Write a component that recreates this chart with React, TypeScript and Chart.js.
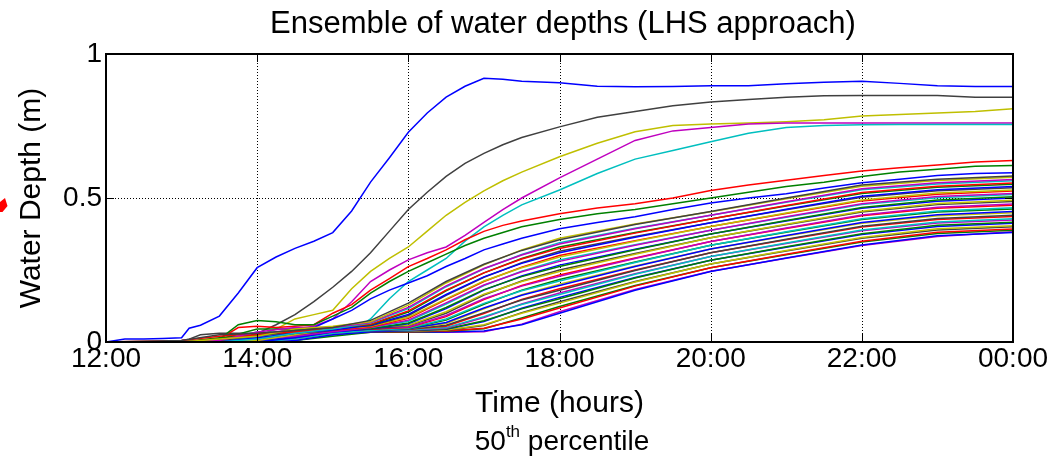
import React, { useEffect, useRef } from 'react';
import { Chart, registerables } from 'chart.js';

Chart.register(...registerables);

const FONT = "'Liberation Sans', Arial, Helvetica, sans-serif";

// ---------- Text ----------
const chartTitle = 'Ensemble of water depths (LHS approach)';
const xAxisTitle = 'Time (hours)';
const yAxisTitle = 'Water Depth (m)';
const subtitleNumber = '50';
const subtitleSup = 'th';
const subtitleRest = ' percentile';

// ---------- Axes ----------
const tickHours = [12, 14, 16, 18, 20, 22, 24];
const tickLabels = ['12:00', '14:00', '16:00', '18:00', '20:00', '22:00', '00:00'];
const depthTicks = [0, 0.5, 1];
const depthTickLabels = ['0', '0.5', '1'];

// ---------- Highlighted (upper) ensemble members ----------
const hoursTop = [12, 12.25, 12.5, 12.75, 13, 13.1, 13.25, 13.5, 13.75, 14, 14.25, 14.5, 14.75, 15, 15.25, 15.5, 15.75, 16, 16.25, 16.5, 16.75, 17, 17.25, 17.5, 18, 18.5, 19, 19.5, 20, 20.5, 21, 21.5, 22, 22.5, 23, 23.5, 24];

const topBlue = [0, 0.01, 0.01, 0.012, 0.015, 0.048, 0.058, 0.09, 0.17, 0.258, 0.295, 0.325, 0.35, 0.38, 0.455, 0.555, 0.64, 0.728, 0.795, 0.85, 0.888, 0.916, 0.912, 0.905, 0.9, 0.888, 0.886, 0.887, 0.89, 0.89, 0.897, 0.902, 0.905, 0.898, 0.89, 0.887, 0.887];
const topGray = [0, 0, 0, 0, 0.005, 0.01, 0.025, 0.03, 0.03, 0.03, 0.06, 0.095, 0.14, 0.19, 0.245, 0.31, 0.385, 0.46, 0.52, 0.575, 0.62, 0.655, 0.685, 0.71, 0.747, 0.78, 0.8, 0.82, 0.833, 0.842, 0.85, 0.855, 0.856, 0.856, 0.856, 0.85, 0.85];
const topYellow = [0, 0, 0, 0, 0, 0, 0.005, 0.01, 0.015, 0.02, 0.045, 0.08, 0.095, 0.11, 0.185, 0.245, 0.29, 0.33, 0.385, 0.44, 0.485, 0.525, 0.56, 0.59, 0.643, 0.69, 0.73, 0.752, 0.757, 0.76, 0.765, 0.772, 0.785, 0.79, 0.795, 0.8, 0.81];
const topMagenta = [0, 0, 0, 0, 0, 0, 0, 0.005, 0.01, 0.015, 0.035, 0.045, 0.055, 0.08, 0.14, 0.21, 0.25, 0.285, 0.31, 0.33, 0.37, 0.415, 0.46, 0.5, 0.57, 0.635, 0.7, 0.733, 0.745, 0.757, 0.76, 0.76, 0.76, 0.76, 0.76, 0.76, 0.76];
const topCyan = [0, 0, 0, 0, 0, 0, 0, 0.005, 0.02, 0.035, 0.03, 0.02, 0.02, 0.025, 0.035, 0.08, 0.15, 0.21, 0.25, 0.29, 0.35, 0.4, 0.44, 0.476, 0.528, 0.585, 0.635, 0.665, 0.695, 0.725, 0.745, 0.752, 0.754, 0.755, 0.755, 0.755, 0.755];
const topRed = [0, 0, 0, 0, 0, 0, 0.005, 0.01, 0.05, 0.055, 0.05, 0.055, 0.06, 0.1, 0.13, 0.18, 0.22, 0.262, 0.29, 0.32, 0.355, 0.384, 0.405, 0.42, 0.445, 0.465, 0.48, 0.5, 0.526, 0.545, 0.562, 0.578, 0.594, 0.605, 0.615, 0.625, 0.63];
const topGreen = [0, 0, 0, 0, 0, 0, 0, 0.01, 0.06, 0.075, 0.07, 0.06, 0.06, 0.09, 0.12, 0.17, 0.21, 0.245, 0.275, 0.305, 0.335, 0.36, 0.38, 0.4, 0.425, 0.445, 0.46, 0.48, 0.5, 0.52, 0.54, 0.555, 0.575, 0.59, 0.6, 0.61, 0.613];
const topBlue2 = [0, 0, 0, 0, 0, 0, 0, 0, 0.01, 0.03, 0.035, 0.04, 0.05, 0.08, 0.11, 0.15, 0.18, 0.205, 0.23, 0.262, 0.29, 0.32, 0.34, 0.36, 0.393, 0.415, 0.435, 0.46, 0.483, 0.5, 0.515, 0.535, 0.553, 0.565, 0.578, 0.585, 0.588];

// ---------- Main bundle of ensemble members ----------
const hoursBundle = [12, 13, 13.5, 14, 14.5, 15, 15.5, 16, 16.5, 17, 17.5, 18, 19, 20, 21, 22, 23, 24];

const m00 = [0, 0.005, 0.025, 0.03, 0.04, 0.05, 0.075, 0.135, 0.21, 0.27, 0.318, 0.355, 0.408, 0.453, 0.5, 0.545, 0.565, 0.576];
const m01 = [0, 0, 0.01, 0.02, 0.045, 0.055, 0.07, 0.128, 0.205, 0.268, 0.32, 0.36, 0.41, 0.452, 0.497, 0.541, 0.561, 0.572];
const m02 = [0, 0, 0.005, 0.035, 0.05, 0.05, 0.068, 0.12, 0.195, 0.255, 0.302, 0.34, 0.393, 0.44, 0.487, 0.532, 0.553, 0.564];
const m03 = [0, 0, 0, 0.01, 0.03, 0.045, 0.066, 0.116, 0.192, 0.254, 0.304, 0.345, 0.395, 0.44, 0.485, 0.529, 0.549, 0.56];
const m04 = [0, 0.005, 0.02, 0.03, 0.035, 0.05, 0.062, 0.108, 0.18, 0.24, 0.288, 0.325, 0.378, 0.427, 0.474, 0.519, 0.541, 0.552];
const m05 = [0, 0, 0.01, 0.045, 0.045, 0.05, 0.06, 0.104, 0.178, 0.24, 0.29, 0.33, 0.38, 0.427, 0.472, 0.516, 0.537, 0.548];
const m06 = [0, 0, 0, 0.015, 0.03, 0.042, 0.058, 0.096, 0.165, 0.226, 0.273, 0.31, 0.364, 0.414, 0.461, 0.506, 0.529, 0.54];
const m07 = [0, 0, 0.005, 0.02, 0.04, 0.05, 0.056, 0.092, 0.162, 0.225, 0.275, 0.315, 0.366, 0.414, 0.459, 0.503, 0.525, 0.536];
const m08 = [0, 0, 0, 0.005, 0.025, 0.045, 0.055, 0.086, 0.15, 0.212, 0.258, 0.295, 0.35, 0.401, 0.448, 0.493, 0.517, 0.528];
const m09 = [0, 0, 0.01, 0.025, 0.035, 0.042, 0.052, 0.082, 0.147, 0.21, 0.26, 0.3, 0.352, 0.401, 0.446, 0.49, 0.513, 0.524];
const m10 = [0, 0, 0, 0.01, 0.02, 0.036, 0.05, 0.076, 0.136, 0.198, 0.244, 0.28, 0.336, 0.388, 0.435, 0.48, 0.505, 0.516];
const m11 = [0, 0, 0, 0.02, 0.04, 0.048, 0.05, 0.072, 0.132, 0.196, 0.246, 0.285, 0.338, 0.388, 0.433, 0.477, 0.501, 0.512];
const m12 = [0, 0, 0.015, 0.025, 0.03, 0.04, 0.047, 0.066, 0.12, 0.182, 0.227, 0.262, 0.32, 0.375, 0.422, 0.467, 0.493, 0.504];
const m13 = [0, 0, 0, 0, 0.015, 0.035, 0.046, 0.063, 0.116, 0.18, 0.229, 0.267, 0.322, 0.375, 0.42, 0.464, 0.489, 0.5];
const m14 = [0, 0, 0.005, 0.015, 0.04, 0.05, 0.052, 0.058, 0.105, 0.166, 0.21, 0.245, 0.305, 0.362, 0.409, 0.454, 0.481, 0.492];
const m15 = [0, 0, 0, 0.01, 0.025, 0.04, 0.046, 0.056, 0.1, 0.163, 0.212, 0.25, 0.307, 0.362, 0.407, 0.451, 0.477, 0.488];
const m16 = [0, 0, 0, 0.005, 0.03, 0.045, 0.048, 0.052, 0.092, 0.15, 0.194, 0.228, 0.29, 0.349, 0.396, 0.441, 0.468, 0.479];
const m17 = [0, 0, 0.01, 0.02, 0.035, 0.04, 0.044, 0.05, 0.088, 0.147, 0.196, 0.233, 0.292, 0.349, 0.394, 0.438, 0.464, 0.475];
const m18 = [0, 0, 0, 0, 0.01, 0.03, 0.04, 0.048, 0.08, 0.134, 0.178, 0.212, 0.276, 0.336, 0.383, 0.428, 0.455, 0.466];
const m19 = [0, 0, 0, 0.01, 0.03, 0.045, 0.046, 0.047, 0.076, 0.131, 0.18, 0.217, 0.278, 0.336, 0.381, 0.425, 0.451, 0.462];
const m20 = [0, 0, 0, 0.005, 0.02, 0.038, 0.042, 0.046, 0.068, 0.118, 0.162, 0.196, 0.262, 0.323, 0.37, 0.415, 0.442, 0.453];
const m21 = [0, 0, 0.005, 0.02, 0.04, 0.046, 0.046, 0.046, 0.064, 0.115, 0.164, 0.201, 0.264, 0.323, 0.368, 0.412, 0.438, 0.449];
const m22 = [0, 0, 0, 0, 0.015, 0.032, 0.04, 0.044, 0.058, 0.102, 0.146, 0.18, 0.248, 0.31, 0.357, 0.402, 0.429, 0.44];
const m23 = [0, 0, 0, 0.005, 0.025, 0.04, 0.044, 0.044, 0.055, 0.099, 0.148, 0.185, 0.25, 0.31, 0.355, 0.399, 0.425, 0.436];
const m24 = [0, 0, 0, 0.01, 0.03, 0.042, 0.042, 0.042, 0.05, 0.088, 0.13, 0.165, 0.235, 0.297, 0.344, 0.389, 0.417, 0.428];
const m25 = [0, 0, 0, 0, 0.01, 0.03, 0.04, 0.041, 0.048, 0.085, 0.132, 0.17, 0.237, 0.297, 0.342, 0.386, 0.413, 0.424];
const m26 = [0, 0, 0, 0.005, 0.02, 0.036, 0.04, 0.04, 0.045, 0.074, 0.115, 0.15, 0.222, 0.284, 0.331, 0.376, 0.405, 0.416];
const m27 = [0, 0, 0, 0, 0.005, 0.025, 0.036, 0.039, 0.044, 0.071, 0.117, 0.155, 0.224, 0.284, 0.329, 0.373, 0.401, 0.412];
const m28 = [0, 0, 0, 0.01, 0.025, 0.038, 0.038, 0.038, 0.042, 0.06, 0.1, 0.135, 0.208, 0.271, 0.318, 0.363, 0.393, 0.404];
const m29 = [0, 0, 0, 0, 0.01, 0.028, 0.036, 0.037, 0.04, 0.057, 0.102, 0.14, 0.21, 0.271, 0.316, 0.36, 0.389, 0.4];
const m30 = [0, 0, 0, 0.005, 0.02, 0.034, 0.036, 0.036, 0.038, 0.048, 0.08, 0.118, 0.194, 0.258, 0.305, 0.35, 0.381, 0.392];
const m31 = [0, 0, 0, 0, 0.005, 0.02, 0.034, 0.035, 0.037, 0.046, 0.083, 0.123, 0.196, 0.258, 0.303, 0.347, 0.377, 0.388];
const m32 = [0, 0, 0, 0, 0.012, 0.03, 0.035, 0.034, 0.035, 0.038, 0.06, 0.1, 0.18, 0.245, 0.292, 0.337, 0.369, 0.38];
const m33 = [0, 0, 0, 0, 0.005, 0.025, 0.034, 0.034, 0.034, 0.036, 0.062, 0.105, 0.182, 0.246, 0.291, 0.335, 0.366, 0.383];

const bundleMembers = [m00, m01, m02, m03, m04, m05, m06, m07, m08, m09, m10, m11, m12, m13, m14, m15, m16, m17, m18, m19, m20, m21, m22, m23, m24, m25, m26, m27, m28, m29, m30, m31, m32, m33];
const bundleColorKeys = ['k', 'y', 'm', 'c', 'r', 'g', 'b', 'k', 'y', 'r', 'm', 'c', 'g', 'b', 'y', 'k', 'm', 'r', 'c', 'g', 'b', 'y', 'k', 'r', 'c', 'm', 'g', 'b', 'y', 'k', 'r', 'g', 'b', 'm'];

const topMembers = [topBlue2, topGreen, topRed, topCyan, topMagenta, topYellow, topGray, topBlue];
const topColorKeys = ['b', 'g', 'r', 'c', 'm', 'y', 'k', 'b'];

// MATLAB classic line colour order
const palette: Record<string, string> = {
  b: '#0000ff',
  g: '#008000',
  r: '#ff0000',
  c: '#00bfbf',
  m: '#bf00bf',
  y: '#bfbf00',
  k: '#404040',
};

function buildDatasets() {
  const sets: any[] = [];
  bundleMembers.forEach((vals, i) => {
    sets.push({
      data: hoursBundle.map((h, j) => ({ x: h, y: vals[j] })),
      borderColor: palette[bundleColorKeys[i]],
    });
  });
  topMembers.forEach((vals, i) => {
    sets.push({
      data: hoursTop.map((h, j) => ({ x: h, y: vals[j] })),
      borderColor: palette[topColorKeys[i]],
    });
  });
  return sets.map((s) => ({ ...s, borderWidth: 1.5, pointRadius: 0, fill: false, tension: 0 }));
}

const matlabAxesPlugin = {
  id: 'matlabAxes',
  beforeDatasetsDraw(chart: any) {
    const { ctx, chartArea: a, scales } = chart;
    const xs = scales.x;
    const ys = scales.y;
    ctx.save();
    ctx.strokeStyle = '#000';
    ctx.lineWidth = 1;
    ctx.setLineDash([1, 2]);
    ctx.beginPath();
    tickHours.slice(1, -1).forEach((h) => {
      const px = Math.round(xs.getPixelForValue(h)) + 0.5;
      ctx.moveTo(px, a.top);
      ctx.lineTo(px, a.bottom);
    });
    depthTicks.slice(1, -1).forEach((v) => {
      const py = Math.round(ys.getPixelForValue(v)) + 0.5;
      ctx.moveTo(a.left, py);
      ctx.lineTo(a.right, py);
    });
    ctx.stroke();
    ctx.restore();
  },
  afterDatasetsDraw(chart: any) {
    const { ctx, chartArea: a, scales } = chart;
    const xs = scales.x;
    const ys = scales.y;
    ctx.save();
    ctx.strokeStyle = '#000';
    ctx.setLineDash([]);
    ctx.lineWidth = 1;
    const tl = 8;
    ctx.beginPath();
    tickHours.forEach((h) => {
      const px = Math.round(xs.getPixelForValue(h)) + 0.5;
      ctx.moveTo(px, a.bottom);
      ctx.lineTo(px, a.bottom - tl);
      ctx.moveTo(px, a.top);
      ctx.lineTo(px, a.top + tl);
    });
    depthTicks.forEach((v) => {
      const py = Math.round(ys.getPixelForValue(v)) + 0.5;
      ctx.moveTo(a.left, py);
      ctx.lineTo(a.left + tl, py);
      ctx.moveTo(a.right, py);
      ctx.lineTo(a.right - tl, py);
    });
    ctx.stroke();
    ctx.lineWidth = 2;
    ctx.strokeRect(a.left, a.top, a.right - a.left, a.bottom - a.top);
    ctx.restore();
  },
  afterDraw(chart: any) {
    const { ctx } = chart;
    ctx.save();
    ctx.fillStyle = '#000';
    // main title
    ctx.font = `31px ${FONT}`;
    ctx.textAlign = 'center';
    ctx.textBaseline = 'alphabetic';
    ctx.fillText(chartTitle, 563, 33);
    // subtitle with superscript
    ctx.textAlign = 'left';
    const big = `28px ${FONT}`;
    const small = `17px ${FONT}`;
    ctx.font = big;
    const w1 = ctx.measureText(subtitleNumber).width;
    const w3 = ctx.measureText(subtitleRest).width;
    ctx.font = small;
    const w2 = ctx.measureText(subtitleSup).width;
    let x = 562 - (w1 + w2 + w3) / 2;
    const base = 450;
    ctx.font = big;
    ctx.fillText(subtitleNumber, x, base);
    x += w1;
    ctx.font = small;
    ctx.fillText(subtitleSup, x, base - 13);
    x += w2;
    ctx.font = big;
    ctx.fillText(subtitleRest, x, base);
    // clipped red marker at the left edge
    ctx.fillStyle = '#ff0000';
    ctx.beginPath();
    ctx.moveTo(0, 202);
    ctx.lineTo(5, 198);
    ctx.lineTo(7.5, 206);
    ctx.lineTo(2.5, 212);
    ctx.lineTo(0, 212);
    ctx.closePath();
    ctx.fill();
    ctx.restore();
  },
};

export default function App() {
  const canvasRef = useRef<HTMLCanvasElement | null>(null);

  useEffect(() => {
    const canvas = canvasRef.current;
    if (!canvas) return;
    const chart = new Chart(canvas, {
      type: 'line',
      data: { datasets: buildDatasets() },
      options: {
        responsive: false,
        animation: false,
        devicePixelRatio: 1,
        layout: { padding: { left: 0, right: 45, top: 54, bottom: 0 } },
        plugins: {
          legend: { display: false },
          title: { display: false },
          tooltip: { enabled: false },
        },
        scales: {
          x: {
            type: 'linear',
            min: 12,
            max: 24,
            afterBuildTicks: (scale: any) => {
              scale.ticks = tickHours.map((h) => ({ value: h }));
            },
            ticks: {
              autoSkip: false,
              maxRotation: 0,
              padding: 0,
              color: '#000',
              font: { size: 28, family: FONT },
              callback: (v: any) => {
                const idx = tickHours.indexOf(Number(v));
                return idx >= 0 ? tickLabels[idx] : '';
              },
            },
            grid: { display: false, drawTicks: false },
            border: { display: false },
            title: {
              display: true,
              text: xAxisTitle,
              color: '#000',
              font: { size: 30, family: FONT },
              padding: { top: 0, bottom: 38 },
            },
            afterFit: (scale: any) => {
              scale.height = 118;
            },
          },
          y: {
            type: 'linear',
            min: 0,
            max: 1,
            afterBuildTicks: (scale: any) => {
              scale.ticks = depthTicks.map((v) => ({ value: v }));
            },
            ticks: {
              padding: 4,
              color: '#000',
              font: { size: 28, family: FONT },
              callback: (v: any) => {
                const idx = depthTicks.indexOf(Number(v));
                return idx >= 0 ? depthTickLabels[idx] : '';
              },
            },
            grid: { display: false, drawTicks: false },
            border: { display: false },
            title: {
              display: true,
              text: yAxisTitle,
              color: '#000',
              font: { size: 30, family: FONT },
              padding: { top: 14, bottom: 0 },
            },
            afterFit: (scale: any) => {
              scale.width = 106;
            },
          },
        },
      },
      plugins: [matlabAxesPlugin],
    });
    return () => chart.destroy();
  }, []);

  return (
    <div style={{ position: 'absolute', left: 0, top: 0, width: 1058, height: 460, background: '#fff' }}>
      <canvas ref={canvasRef} width={1058} height={460} style={{ width: 1058, height: 460, display: 'block' }} />
    </div>
  );
}
